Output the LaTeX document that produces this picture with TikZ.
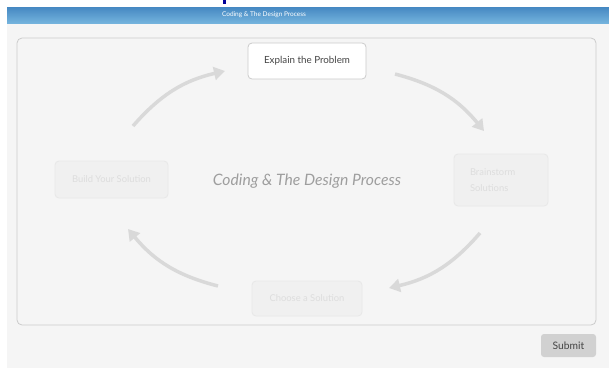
\documentclass[tikz,border=0pt]{standalone}
\usepackage{fontspec}
\setmainfont{Lato}
\usetikzlibrary{arrows.meta}
\definecolor{barTop}{HTML}{4588C2}
\definecolor{barBot}{HTML}{74B3DD}
\definecolor{pageGray}{HTML}{F5F5F5}
\definecolor{panelLine}{HTML}{CBCBCB}
\definecolor{fadeFill}{HTML}{F0F0F0}
\definecolor{fadeLine}{HTML}{E8E8E8}
\definecolor{fadeText}{HTML}{DDDDDD}
\definecolor{cycleGray}{HTML}{D9D9D9}
\definecolor{darkText}{HTML}{444444}
\tikzset{
  stage/.style={draw=panelLine, fill=white, rounded corners=4pt, line width=0.8pt,
    inner sep=0pt, text=darkText, font=\fontsize{9.8}{12}\selectfont},
  faded/.style={draw=fadeLine, fill=fadeFill, rounded corners=4pt, line width=0.8pt,
    inner sep=0pt, text=fadeText, font=\fontsize{9.4}{16}\selectfont},
  cycle/.style={draw=cycleGray, line width=3.5pt,
    -{Triangle[length=11pt,width=13pt]}}
}
\begin{document}
\begin{tikzpicture}[x=1pt,y=-1pt]
  \useasboundingbox (0,0) rectangle (609,368);
  \fill[white] (0,0) rectangle (609,368);
  \fill[pageGray] (7,23) rectangle (609,368);
  \fill[color=blue!60!black] (223,0) rectangle (226,4);
  \shade[top color=barTop, bottom color=barBot] (7,7) rectangle (609,23);
  \node[text=white, font=\fontsize{6.5}{8}\selectfont] (bar) at (264,15) {Coding \& The Design Process};
  \draw[panelLine, fill=pageGray, rounded corners=5pt, line width=0.8pt] (17,38) rectangle (596,325);

  \draw
    (307,61) node[stage, minimum width=118pt, minimum height=36pt] (explain) {Explain the Problem}
    (501,180) node[faded, minimum height=52pt, text width=62pt, inner xsep=16pt, align=left] (brainstorm) {Brainstorm\\Solutions}
    (307,298.5) node[faded, minimum width=110pt, minimum height=35pt] (choose) {Choose a Solution}
    (111.5,179.5) node[faded, minimum width=113pt, minimum height=37pt] (build) {Build Your Solution}
    (307,181) node[text=black!38, font=\fontsize{15.7}{18}\selectfont\itshape] (title) {Coding \& The Design Process};

  \node[fill=black!18, rounded corners=3pt, minimum width=55pt, minimum height=23pt, inner sep=0pt,
    text=darkText, font=\fontsize{10.3}{12}\selectfont] (submit) at (568.5,345.5) {Submit};

  \coordinate (a1) at (133,126);
  \coordinate (b1) at (225,71);
  \coordinate (a2) at (395,74);
  \coordinate (b2) at (484,131);
  \coordinate (a3) at (480,233);
  \coordinate (b3) at (389,288);
  \coordinate (a4) at (218,286);
  \coordinate (b4) at (128,229);
  \begin{scope}[cycle]
    \draw (a1) to[bend left=18] (b1);
    \draw (a2) to[bend left=18] (b2);
    \draw (a3) to[bend left=18] (b3);
    \draw (a4) to[bend left=18] (b4);
  \end{scope}
\end{tikzpicture}
\end{document}
